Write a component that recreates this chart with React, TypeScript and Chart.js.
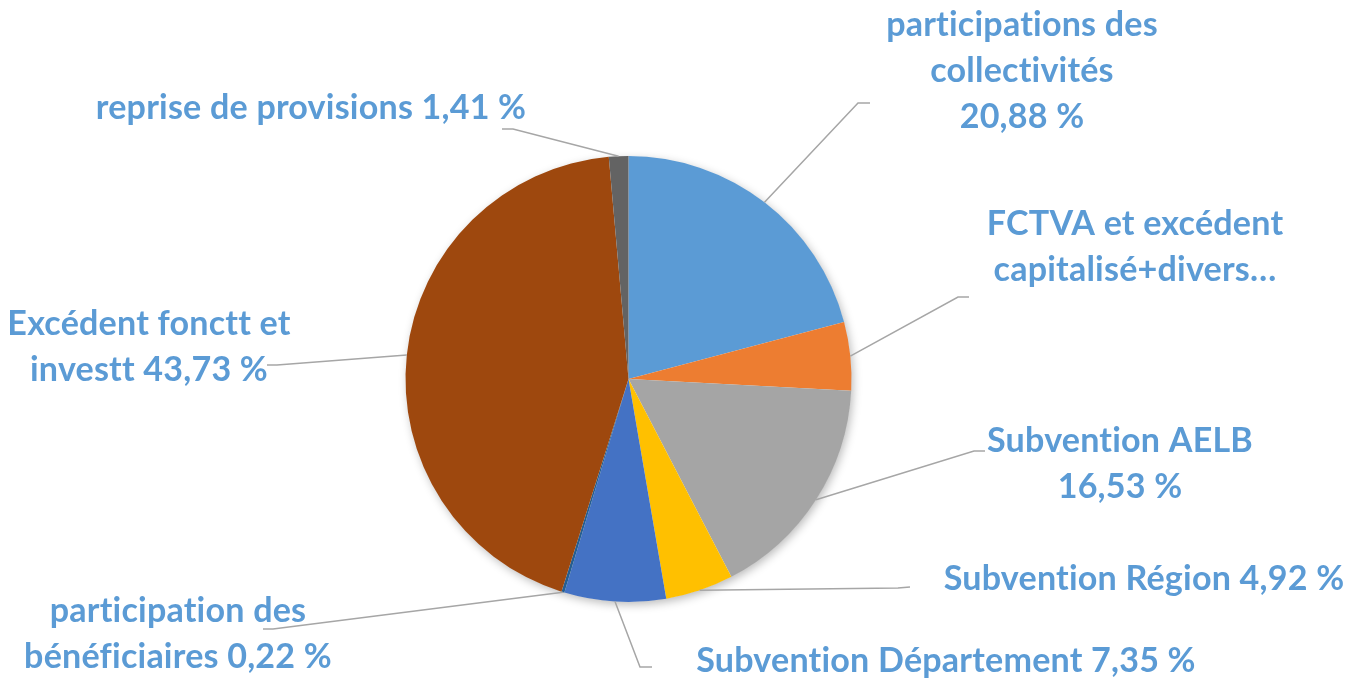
import React, { useEffect, useRef } from "react";
import { Chart, registerables } from "chart.js";

Chart.register(...registerables);

// ---- data ----
const categories = [
  "participations des collectivités",
  "FCTVA et excédent capitalisé+divers",
  "Subvention AELB",
  "Subvention Région",
  "Subvention Département",
  "participation des bénéficiaires",
  "Excédent fonctt et investt",
  "reprise de provisions",
];
const values = [20.88, 4.96, 16.53, 4.92, 7.35, 0.22, 43.73, 1.41];
const labelTexts = [
  ["participations des", "collectivités", "20,88 %"],
  ["FCTVA et excédent", "capitalisé+divers…"],
  ["Subvention AELB", "16,53 %"],
  ["Subvention Région 4,92 %"],
  ["Subvention Département 7,35 %"],
  ["participation des", "bénéficiaires 0,22 %"],
  ["Excédent fonctt et", "investt 43,73 %"],
  ["reprise de provisions 1,41 %"],
];

// ---- styles / layout ----
const colors = ["#5B9BD5", "#ED7D31", "#A5A5A5", "#FFC000", "#4472C4", "#255E91", "#9E480E", "#636363"];
const TEXT_COLOR = "#5B9BD5";
const LINE_COLOR = "#A6A6A6";
const FONT_FAMILY = "Lato, 'Liberation Sans', sans-serif";
const REF_TEXT = "Subvention Département 7,35 %";
const REF_WIDTH = 499;
const LINE_H = 46;
// label placement: center x, first baseline y
const labelPos = [
  [1022, 36],
  [1135, 235],
  [1120, 452],
  [1144, 590],
  [946, 672],
  [178, 622],
  [149, 335],
  [311, 119],
];
// leader line: elbow point, end point
const leaders = [
  [[858, 103], [870, 103]],
  [[958, 297], [969, 297]],
  [[974, 451], [985, 451]],
  [[898, 588], [910, 587]],
  [[640, 667], [652, 667]],
  [[273, 629], [263, 629]],
  [[277, 365], [267, 365]],
  [[513, 129], [502, 129]],
];

const labelPlugin = {
  id: "excelLabels",
  beforeDatasetsDraw(chart: any) {
    const meta = chart.getDatasetMeta(0);
    const a = meta.data[0];
    if (!a) return;
    const ctx = chart.ctx;
    ctx.save();
    ctx.shadowColor = "rgba(0,0,0,0.28)";
    ctx.shadowBlur = 10;
    ctx.shadowOffsetX = 2;
    ctx.shadowOffsetY = 3;
    ctx.fillStyle = "#ffffff";
    ctx.beginPath();
    ctx.arc(a.x, a.y, a.outerRadius - 0.5, 0, Math.PI * 2);
    ctx.fill();
    ctx.restore();
  },
  afterDatasetsDraw(chart: any) {
    const ctx = chart.ctx;
    const meta = chart.getDatasetMeta(0);
    ctx.save();
    meta.data.forEach((arc: any, i: number) => {
      const mid = (arc.startAngle + arc.endAngle) / 2;
      const sx = arc.x + Math.cos(mid) * arc.outerRadius;
      const sy = arc.y + Math.sin(mid) * arc.outerRadius;
      const [elbow, end] = leaders[i];
      ctx.strokeStyle = LINE_COLOR;
      ctx.lineWidth = 1.5;
      ctx.beginPath();
      ctx.moveTo(sx, sy);
      ctx.lineTo(elbow[0], elbow[1]);
      ctx.lineTo(end[0], end[1]);
      ctx.stroke();
    });
    try {
      (ctx as any).letterSpacing = "0.2px";
    } catch (e) {}
    ctx.font = `bold 40px ${FONT_FAMILY}`;
    const w40 = ctx.measureText(REF_TEXT).width || REF_WIDTH;
    const size = Math.round(((40 * REF_WIDTH) / w40) * 10) / 10;
    ctx.font = `bold ${size}px ${FONT_FAMILY}`;
    ctx.fillStyle = TEXT_COLOR;
    ctx.textAlign = "center";
    ctx.textBaseline = "alphabetic";
    labelTexts.forEach((lines, i) => {
      const [cx, by] = labelPos[i];
      lines.forEach((t, j) => ctx.fillText(t, cx, by + j * LINE_H));
    });
    ctx.restore();
  },
};

export default function App() {
  const ref = useRef<HTMLCanvasElement>(null);
  useEffect(() => {
    if (!ref.current) return;
    const chart = new Chart(ref.current, {
      type: "pie",
      data: {
        labels: categories,
        datasets: [
          {
            data: values,
            backgroundColor: colors,
            borderWidth: 0,
          },
        ],
      },
      options: {
        responsive: false,
        animation: false,
        rotation: 0,
        layout: { padding: { left: 405.5, right: 513.5, top: 156, bottom: 80 } },
        plugins: {
          legend: { display: false },
          tooltip: { enabled: false },
          title: { display: false },
        },
      },
      plugins: [labelPlugin],
    });
    return () => chart.destroy();
  }, []);
  return (
    <div style={{ position: "fixed", left: 0, top: 0, width: 1365, height: 682, background: "#fff" }}>
      <canvas ref={ref} width={1365} height={682} />
    </div>
  );
}
